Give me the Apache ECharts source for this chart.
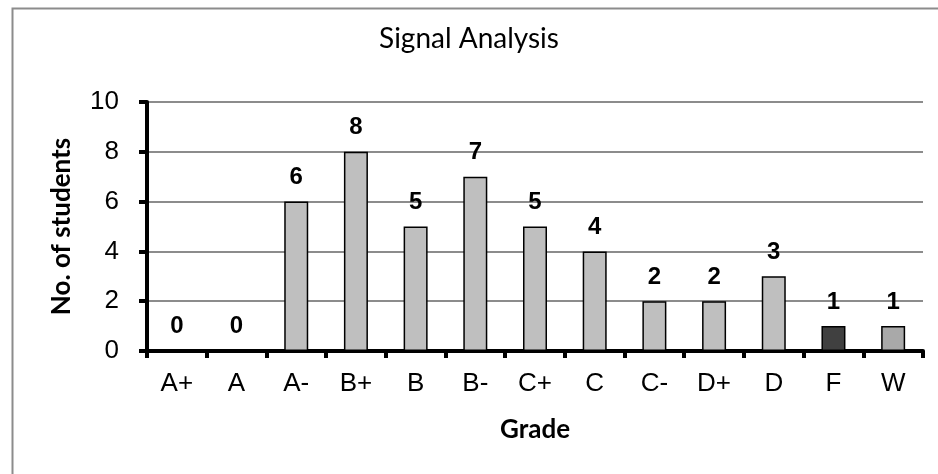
<!DOCTYPE html>
<html>
<head>
<meta charset="utf-8">
<script src="https://cdn.jsdelivr.net/npm/echarts@6/dist/echarts.min.js"></script>
<style>
  html, body { margin: 0; padding: 0; background: #fff; }
  #chart { width: 938px; height: 474px; }
</style>
</head>
<body>
<div id="chart"></div>
<script>
// data
var grades = ['A+', 'A', 'A-', 'B+', 'B', 'B-', 'C+', 'C', 'C-', 'D+', 'D', 'F', 'W'];
var students = [0, 0, 6, 8, 5, 7, 5, 4, 2, 2, 3, 1, 1];
var yTicks = [0, 2, 4, 6, 8, 10];

// bar fill colours (F and W are shaded differently in the original)
function barColor(name) {
    if (name === 'F') return '#404040';
    if (name === 'W') return '#a9a9a9';
    return '#bfbfbf';
}

var chart = echarts.init(document.getElementById('chart'), null, {renderer: 'canvas'});

var option = {
    backgroundColor: '#fff',
    animation: false,
    title: {
        text: 'Signal Analysis',
        left: 'center',
        top: 20,
        textStyle: {
            fontFamily: 'Lato, "Open Sans", sans-serif',
            fontWeight: 'normal',
            fontSize: 28,
            color: '#000'
        }
    },
    graphic: [{
        type: 'rect',
        left: 10,
        top: 6,
        shape: {width: 1000, height: 600},
        style: {fill: 'none', stroke: '#8c8c8c', lineWidth: 2},
        silent: true
    }],
    grid: {
        left: 147,
        right: 15,
        top: 102,
        bottom: 123
    },
    xAxis: {
        type: 'category',
        data: grades,
        name: 'Grade',
        nameLocation: 'middle',
        nameGap: 66,
        nameTextStyle: {
            fontFamily: 'Lato, "Open Sans", sans-serif',
            fontWeight: 'bold',
            fontSize: 26,
            color: '#000'
        },
        axisLine: {lineStyle: {color: '#000', width: 4}},
        axisTick: {show: true, alignWithLabel: false, length: 7, lineStyle: {color: '#000', width: 4}},
        axisLabel: {
            margin: 20,
            fontFamily: '"Liberation Sans", Arial, sans-serif',
            fontSize: 26,
            color: '#000'
        },
        splitLine: {show: false}
    },
    yAxis: {
        type: 'value',
        min: yTicks[0],
        max: yTicks[yTicks.length - 1],
        interval: yTicks[1] - yTicks[0],
        name: 'No. of students',
        nameLocation: 'middle',
        nameGap: 72,
        nameTextStyle: {
            fontFamily: 'Lato, "Open Sans", sans-serif',
            fontWeight: 'bold',
            fontSize: 26,
            color: '#000'
        },
        axisLine: {show: true, lineStyle: {color: '#000', width: 4}},
        axisTick: {show: true, length: 8, lineStyle: {color: '#000', width: 4}},
        axisLabel: {
            margin: 28,
            fontFamily: '"Liberation Sans", Arial, sans-serif',
            fontSize: 26,
            color: '#000'
        },
        splitLine: {show: true, lineStyle: {color: '#8c8c8c', width: 2}}
    },
    series: [{
        type: 'bar',
        barWidth: 24,
        data: students.map(function (v, i) {
            return {
                value: v,
                itemStyle: {color: barColor(grades[i])}
            };
        }),
        itemStyle: {borderColor: '#000', borderWidth: 1.5},
        label: {
            show: true,
            position: 'top',
            distance: 12,
            fontFamily: '"Liberation Sans", Arial, sans-serif',
            fontWeight: 'bold',
            fontSize: 24,
            color: '#000'
        }
    }]
};

chart.setOption(option);
</script>
</body>
</html>
